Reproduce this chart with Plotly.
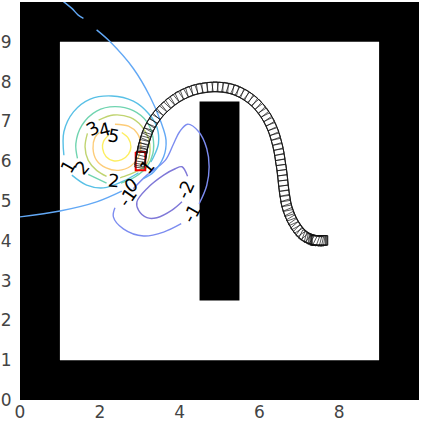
import numpy as np
import plotly.graph_objects as go

# world layout (data units)
world_size = 10
free_min, free_max = 1, 9
wall_x = [4.5, 5.5]
wall_y = [2.5, 7.5]

# robot poses along the path
path_x = [3.02,3.02,3.03,3.04,3.05,3.06,3.08,3.10,3.13,3.16,3.20,3.25,3.31,3.38,3.46,3.55,3.65,3.76,3.87,3.99,
          4.11,4.24,4.37,4.50,4.63,4.76,4.89,5.02,5.15,5.27,5.39,5.51,5.62,5.73,5.83,5.93,6.02,6.10,6.18,6.24,
          6.30,6.35,6.39,6.43,6.46,6.49,6.51,6.53,6.55,6.57,6.58,6.60,6.61,6.63,6.65,6.67,6.70,6.74,6.78,6.83,
          6.88,6.94,7.00,7.07,7.14,7.21,7.28,7.34,7.39,7.43,7.46,7.48,7.50,7.51,7.52]
path_y = [6.00,6.03,6.07,6.12,6.18,6.25,6.33,6.42,6.52,6.62,6.73,6.84,6.95,7.06,7.17,7.27,7.37,7.46,7.55,7.62,
          7.69,7.74,7.79,7.82,7.84,7.86,7.86,7.86,7.84,7.82,7.78,7.73,7.67,7.60,7.52,7.43,7.33,7.22,7.11,6.99,
          6.87,6.75,6.62,6.49,6.36,6.23,6.10,5.97,5.84,5.71,5.58,5.45,5.32,5.19,5.07,4.95,4.83,4.72,4.61,4.51,
          4.42,4.33,4.25,4.18,4.12,4.08,4.05,4.03,4.02,4.01,4.01,4.01,4.01,4.01,4.01]
box_length = 0.39
start_length = 0.46
box_width = 0.24

# contour lines: level -> (x, y, colour); None breaks a line at its label
c5_x = [2.55,2.72,2.78,2.72,2.55,2.34,2.16,2.07,2.09,2.22]
c5_y = [6.72,6.57,6.36,6.18,6.04,6.01,6.11,6.32,6.49,6.65]
c4_x = [2.38,2.72,2.94,3.03,2.97,2.78,2.47,2.16,1.92,1.83,1.88,1.99]
c4_y = [6.93,6.88,6.70,6.40,6.11,5.88,5.77,5.83,6.02,6.32,6.60,6.72]
c3_x = [1.97,2.34,2.76,3.05,3.22,3.26,3.18,2.97,2.59,2.51,None,2.17,1.92,1.71,1.63,1.69]
c3_y = [7.03,7.16,7.10,6.88,6.57,6.28,5.94,5.77,5.61,5.58,None,5.62,5.77,6.02,6.36,6.70]
c2_x = [1.44,1.40,1.55,1.92,2.38,2.84,3.18,3.33,3.33,3.18,2.89,2.53,None,2.17,1.71]
c2_y = [6.07,6.44,6.90,7.26,7.37,7.27,6.99,6.61,6.19,5.86,5.61,5.45,None,5.45,5.67]
c1_x = [2.97,2.59,2.09,1.67,1.30,None,1.10,1.10,1.34,1.76,2.30,2.84,3.22,3.43,3.47,3.35,3.28]
c1_y = [5.71,5.50,5.33,5.40,5.65,None,6.15,6.74,7.24,7.56,7.64,7.51,7.20,6.86,6.44,6.11,5.98]
c0_x = [1.09,1.30,1.46,1.59,None,1.92,2.26,2.84,3.26,3.53,3.66,3.60,3.35,3.09,None,2.55,1.92,1.00,0.00]
c0_y = [10.01,9.84,9.67,9.59,None,9.30,9.00,8.33,7.62,6.99,6.53,6.11,5.73,5.56,None,5.25,4.98,4.75,4.60]
cm1_x = [4.04,3.60,3.10,2.59,2.34,2.38,None,2.84,3.18,3.64,3.85,4.00,4.20,4.48,4.68,4.74,4.68,4.49]
cm1_y = [4.43,4.22,4.12,4.30,4.60,4.83,None,5.31,5.65,6.02,6.44,6.74,6.93,6.74,6.32,5.86,5.39,4.93]
cm2_x = [4.20,4.06,3.89,3.60,3.18,2.93,2.97,3.18,3.43,3.81,4.06]
cm2_y = [5.62,5.86,5.81,5.65,5.31,4.98,4.77,4.58,4.58,4.77,4.98]

contours = [
    (cm2_x, cm2_y, "#7f78d8"),
    (cm1_x, cm1_y, "#7c8cf0"),
    (c0_x, c0_y, "#62a8f5"),
    (c1_x, c1_y, "#58c0e6"),
    (c2_x, c2_y, "#70d4b0"),
    (c3_x, c3_y, "#c0d470"),
    (c4_x, c4_y, "#fdcc78"),
    (c5_x, c5_y, "#fdee60"),
]

# contour labels
label_text = ["1", "2", "3", "4", "5", "2", "1", "0", "-1", "-2", "-1"]
label_x = [1.20, 1.55, 1.81, 2.11, 2.34, 2.34, 3.18, 2.76, 2.68, 4.14, 4.30]
label_y = [5.87, 5.85, 6.82, 6.79, 6.65, 5.52, 5.87, 5.40, 5.10, 5.30, 4.68]
label_rot = [-60, -50, -30, -15, 10, 5, -50, -35, -55, -65, -60]

x_ticks = [0, 2, 4, 6, 8]
y_ticks = [0, 1, 2, 3, 4, 5, 6, 7, 8, 9]

fig = go.Figure()

for cx, cy, col in contours:
    fig.add_trace(go.Scatter(x=cx, y=cy, mode="lines",
                             line=dict(color=col, width=1.4, shape="spline", smoothing=1.0),
                             connectgaps=False, hoverinfo="skip", showlegend=False))

px_arr, py_arr = np.array(path_x), np.array(path_y)
theta = np.arctan2(np.gradient(py_arr), np.gradient(px_arr))


def box(xc, yc, th, length):
    ux, uy = np.cos(th), np.sin(th)
    vx, vy = -uy, ux
    hl, hw = length / 2, box_width / 2
    signs = [(1, 1), (1, -1), (-1, -1), (-1, 1), (1, 1)]
    return ([xc + a * hl * ux + b * hw * vx for a, b in signs],
            [yc + a * hl * uy + b * hw * vy for a, b in signs])


bx, by = [], []
for xc, yc, th in zip(px_arr[1:], py_arr[1:], theta[1:]):
    xs, ys = box(xc, yc, th, box_length)
    bx += xs + [None]
    by += ys + [None]
xs, ys = box(px_arr[0], py_arr[0], theta[0], start_length)
fig.add_trace(go.Scatter(x=xs, y=ys, mode="lines", line=dict(color="#f00000", width=2),
                         hoverinfo="skip", showlegend=False))
fig.add_trace(go.Scatter(x=bx, y=by, mode="lines", line=dict(color="#111111", width=0.7),
                         hoverinfo="skip", showlegend=False))

annotations = [
    dict(x=x, y=y, text=t, textangle=r, showarrow=False, xref="x", yref="y",
         font=dict(family="DejaVu Sans", size=18, color="#000000"))
    for t, x, y, r in zip(label_text, label_x, label_y, label_rot)
]

shapes = [
    dict(type="rect", x0=free_min, x1=free_max, y0=free_min, y1=free_max, fillcolor="white",
         line=dict(width=0), layer="below"),
    dict(type="rect", x0=wall_x[0], x1=wall_x[1], y0=wall_y[0], y1=wall_y[1], fillcolor="black",
         line=dict(width=0), layer="below"),
]

fig.update_layout(
    width=422, height=423,
    margin=dict(l=20, r=3, t=2, b=23),
    paper_bgcolor="white", plot_bgcolor="black",
    shapes=shapes, annotations=annotations,
    font=dict(family="DejaVu Sans", size=17, color="#444444"),
    xaxis=dict(range=[0, world_size], tickvals=x_ticks, showgrid=False, zeroline=False, ticks="",
               showline=False, tickfont=dict(size=17, color="#444444")),
    yaxis=dict(range=[0, world_size], tickvals=y_ticks, showgrid=False, zeroline=False,
               ticks="outside", ticklen=4, tickcolor="rgba(255,255,255,0)",
               showline=False, tickfont=dict(size=17, color="#444444")),
)
fig.write_html("out.html", config=dict(displayModeBar=False),
               post_script="document.body.style.margin='0';document.documentElement.style.overflow='hidden';")
